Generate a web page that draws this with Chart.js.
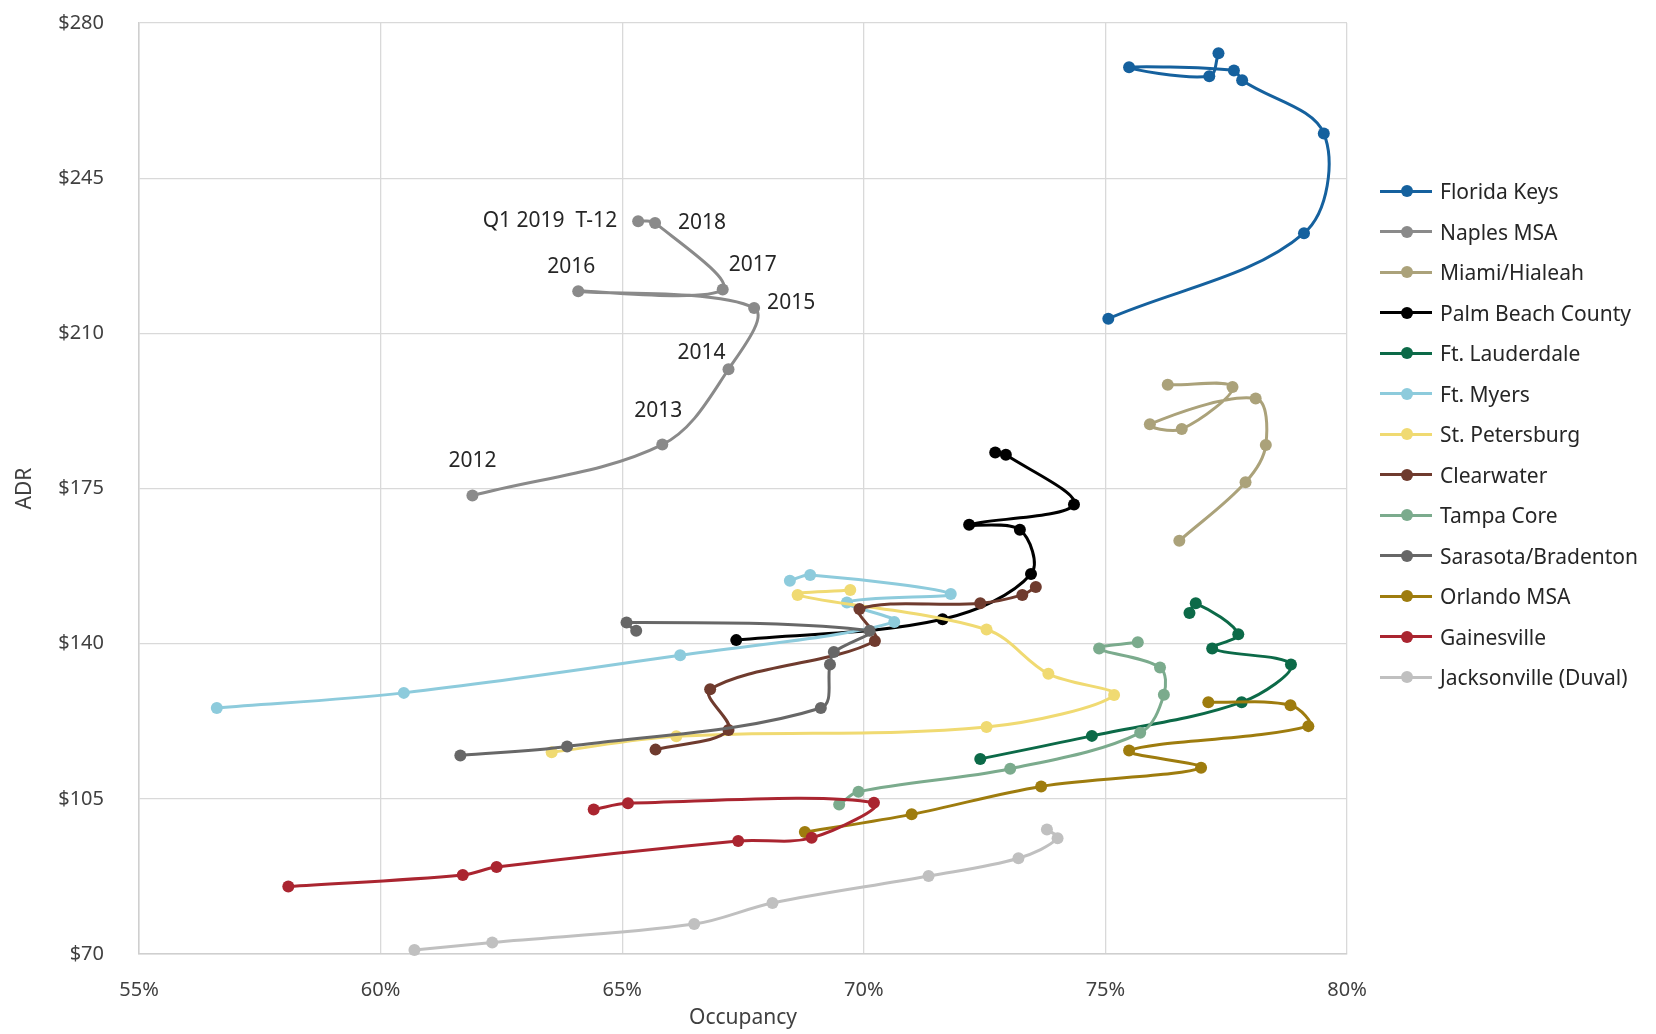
<!DOCTYPE html>
<html>
<head>
<meta charset="utf-8">
<title>Florida markets - Occupancy vs ADR</title>
<script src="https://cdn.jsdelivr.net/npm/chart.js@4.4.1/dist/chart.umd.min.js"></script>
<style>
  html, body { margin: 0; padding: 0; background: #fff; }
  #wrap { position: relative; width: 1656px; height: 1034px; }
  #chart { position: absolute; left: 0; top: 0; }
  #legend {
    position: absolute; left: 1380px; top: 171px;
    font-family: 'Noto Sans', sans-serif; font-size: 21px; color: #262626;
  }
  .item { height: 40.5px; display: flex; align-items: center; white-space: nowrap; }
  .swatch { position: relative; width: 52px; height: 3px; margin-right: 8px; }
  .swatch span { position: absolute; left: 21px; top: -4.5px; width: 12px; height: 12px; border-radius: 50%; }
</style>
</head>
<body>
<div id="wrap">
  <canvas id="chart" width="1656" height="1034"></canvas>
  <div id="legend"></div>
</div>
<script>
// years of each point: 2012 ... 2018, then Q1 2019 trailing 12 months
const years = ['2012', '2013', '2014', '2015', '2016', '2017', '2018', 'Q1 2019  T-12'];

const markets = ['Florida Keys', 'Naples MSA', 'Miami/Hialeah', 'Palm Beach County', 'Ft. Lauderdale',
  'Ft. Myers', 'St. Petersburg', 'Clearwater', 'Tampa Core', 'Sarasota/Bradenton', 'Orlando MSA',
  'Gainesville', 'Jacksonville (Duval)'];

const colors = ['#15619e', '#8a8a8a', '#aba27a', '#000000', '#0c6a48', '#8dcbdc', '#f0da72',
  '#6f3b2e', '#7bab8d', '#676767', '#9e7c0e', '#aa2530', '#c0c0c0'];

// occupancy (%) and ADR ($)
const floridaKeysOcc = [75.06, 79.11, 79.52, 77.83, 77.66, 75.49, 77.15, 77.34];
const floridaKeysAdr = [213.3, 232.6, 255.1, 267.1, 269.3, 270.0, 268.0, 273.2];
const naplesOcc = [61.90, 65.83, 67.20, 67.73, 64.09, 67.08, 65.68, 65.33];
const naplesAdr = [173.4, 184.9, 201.9, 215.7, 219.5, 219.9, 234.9, 235.3];
const miamiOcc = [76.53, 77.90, 78.32, 78.11, 75.92, 76.58, 77.63, 76.29];
const miamiAdr = [163.2, 176.4, 184.8, 195.3, 189.5, 188.4, 197.9, 198.4];
const palmBeachOcc = [67.36, 71.63, 73.46, 73.23, 72.18, 74.35, 72.94, 72.72];
const palmBeachAdr = [140.8, 145.5, 155.7, 165.7, 166.8, 171.4, 182.6, 183.1];
const lauderdaleOcc = [72.41, 74.72, 77.82, 78.84, 77.21, 77.75, 76.87, 76.74];
const lauderdaleAdr = [114.0, 119.2, 126.8, 135.3, 138.9, 142.1, 149.1, 146.9];
const myersOcc = [56.61, 60.48, 66.20, 70.63, 69.65, 71.80, 68.89, 68.47];
const myersAdr = [125.5, 128.9, 137.4, 144.9, 149.3, 151.2, 155.5, 154.2];
const stPeteOcc = [63.54, 66.12, 72.54, 75.18, 73.82, 72.54, 68.63, 69.72];
const stPeteAdr = [115.5, 119.1, 121.2, 128.4, 133.2, 143.2, 151.0, 152.1];
const clearwaterOcc = [65.69, 67.20, 66.82, 70.23, 69.91, 72.41, 73.28, 73.56];
const clearwaterAdr = [116.1, 120.5, 129.7, 140.6, 147.8, 149.1, 151.0, 152.8];
const tampaOcc = [69.49, 69.89, 73.03, 75.72, 76.21, 76.13, 74.87, 75.67];
const tampaAdr = [103.7, 106.6, 111.8, 119.9, 128.5, 134.6, 138.9, 140.3];
const sarasotaOcc = [61.65, 63.86, 69.11, 69.30, 69.38, 70.12, 65.09, 65.29];
const sarasotaAdr = [114.8, 116.8, 125.5, 135.3, 138.1, 142.9, 144.8, 142.9];
const orlandoOcc = [68.78, 70.99, 73.67, 76.98, 75.49, 79.20, 78.83, 77.13];
const orlandoAdr = [97.5, 101.5, 107.8, 112.0, 115.9, 121.4, 126.1, 126.8];
const gainesvilleOcc = [58.09, 61.70, 62.40, 67.40, 68.92, 70.21, 65.12, 64.41];
const gainesvilleAdr = [85.2, 87.8, 89.6, 95.5, 96.2, 104.1, 104.0, 102.6];
const jacksonvilleOcc = [60.70, 62.31, 66.49, 68.11, 71.34, 73.20, 74.01, 73.79];
const jacksonvilleAdr = [70.9, 72.6, 76.75, 81.5, 87.6, 91.6, 96.1, 98.1];

const occSeries = [floridaKeysOcc, naplesOcc, miamiOcc, palmBeachOcc, lauderdaleOcc, myersOcc, stPeteOcc,
  clearwaterOcc, tampaOcc, sarasotaOcc, orlandoOcc, gainesvilleOcc, jacksonvilleOcc];
const adrSeries = [floridaKeysAdr, naplesAdr, miamiAdr, palmBeachAdr, lauderdaleAdr, myersAdr, stPeteAdr,
  clearwaterAdr, tampaAdr, sarasotaAdr, orlandoAdr, gainesvilleAdr, jacksonvilleAdr];

// axis ranges / ticks
const occMin = 55, occMax = 80, occStep = 5;
const adrMin = 70, adrMax = 280, adrStep = 35;

// where the year labels sit next to the Naples points (px offset, alignment)
const labelOffsets = [[0, -35, 'center'], [-4, -34, 'center'], [-27, -16, 'center'], [13, -5, 'left'],
  [-7, -24, 'center'], [6, -24, 'left'], [23, 0, 'left'], [-21, 0, 'right']];

const font = "'Noto Sans', sans-serif";

const datasets = markets.map((name, i) => ({
  label: name,
  data: occSeries[i].map((o, k) => ({ x: o, y: adrSeries[i][k] })),
  borderColor: colors[i],
  backgroundColor: colors[i],
  pointBackgroundColor: colors[i],
  pointBorderWidth: 0,
  pointRadius: 6,
  pointHoverRadius: 6,
  borderWidth: 3,
  tension: 0.35,
  showLine: true,
  clip: false,
  order: markets.length - i
}));

const yearLabels = {
  id: 'yearLabels',
  afterDatasetsDraw(chart) {
    const meta = chart.getDatasetMeta(1);
    const ctx = chart.ctx;
    ctx.save();
    ctx.font = '21px ' + font;
    ctx.fillStyle = '#262626';
    ctx.textBaseline = 'middle';
    meta.data.forEach((pt, i) => {
      const o = labelOffsets[i];
      ctx.textAlign = o[2];
      ctx.fillText(years[i], pt.x + o[0], pt.y + o[1]);
    });
    ctx.restore();
  }
};

new Chart(document.getElementById('chart'), {
  type: 'scatter',
  data: { datasets: datasets },
  plugins: [yearLabels],
  options: {
    responsive: false,
    animation: false,
    events: [],
    layout: { padding: { top: 23, right: 309, bottom: 0, left: 0 } },
    plugins: { legend: { display: false }, tooltip: { enabled: false } },
    scales: {
      x: {
        type: 'linear', min: occMin, max: occMax,
        afterFit: s => { s.height = 80; s.paddingLeft = 0; s.paddingRight = 0; },
        grid: { color: '#d9d9d9', lineWidth: 1.3, drawTicks: false },
        border: { color: '#cfcfcf', width: 1.5 },
        ticks: { stepSize: occStep, padding: 24, color: '#404040', font: { family: font, size: 20 },
          callback: v => v + '%' },
        title: { display: true, text: 'Occupancy', color: '#404040', padding: { top: 0, bottom: 3 },
          font: { family: font, size: 21 } }
      },
      y: {
        type: 'linear', min: adrMin, max: adrMax,
        afterFit: s => { s.width = 139; s.paddingTop = 0; s.paddingBottom = 0; },
        grid: { color: '#d9d9d9', lineWidth: 1.3, drawTicks: false },
        border: { color: '#cfcfcf', width: 1.5 },
        ticks: { stepSize: adrStep, padding: 35, color: '#404040', font: { family: font, size: 20 },
          callback: v => '$' + v },
        title: { display: true, text: 'ADR', color: '#404040', padding: { top: 12, bottom: 0 },
          font: { family: font, size: 21 } }
      }
    }
  }
});

// legend: line + dot swatch like the original
const legend = document.getElementById('legend');
markets.forEach((name, i) => {
  const item = document.createElement('div');
  item.className = 'item';
  item.innerHTML = '<div class="swatch" style="background:' + colors[i] + '"><span style="background:' +
    colors[i] + '"></span></div><div>' + name + '</div>';
  legend.appendChild(item);
});
</script>
</body>
</html>
